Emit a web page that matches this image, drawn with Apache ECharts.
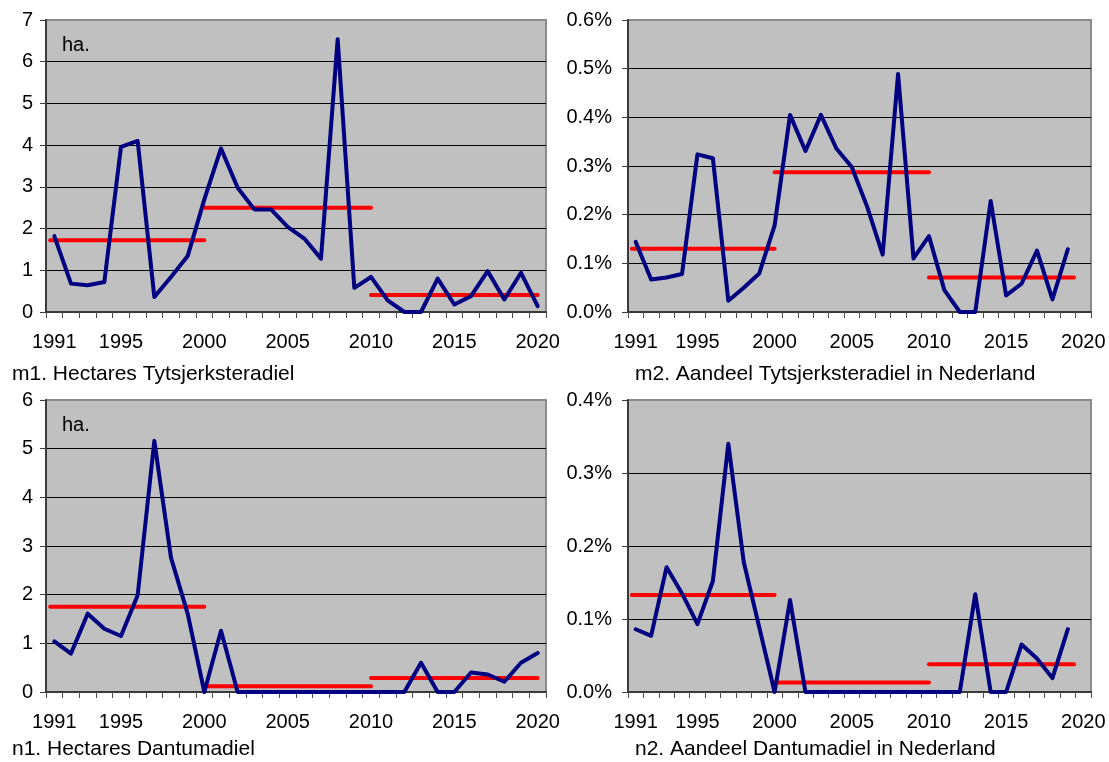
<!DOCTYPE html>
<html>
<head>
<meta charset="utf-8">
<script src="https://cdn.jsdelivr.net/npm/echarts@6/dist/echarts.min.js"></script>
<style>
  html, body { margin: 0; padding: 0; background: #ffffff; }
  #chart { width: 1109px; height: 762px; }
</style>
</head>
<body>
<div id="chart"></div>
<script>
// Years on the category axis
const years = ['1991','1992','1993','1994','1995','1996','1997','1998','1999','2000',
               '2001','2002','2003','2004','2005','2006','2007','2008','2009','2010',
               '2011','2012','2013','2014','2015','2016','2017','2018','2019','2020'];

// m1: hectares Tytsjerksteradiel
const m1Hectares = [1.82, 0.68, 0.64, 0.72, 3.96, 4.10, 0.36, 0.84, 1.34, 2.70,
                    3.92, 2.98, 2.46, 2.46, 2.04, 1.76, 1.28, 6.54, 0.58, 0.84,
                    0.28, 0, 0, 0.80, 0.18, 0.38, 0.98, 0.30, 0.94, 0.14];
const m1Averages = [1.72, 2.50, 0.41];

// m2: share of Tytsjerksteradiel in the Netherlands (percent)
const m2Share = [0.144, 0.067, 0.071, 0.078, 0.324, 0.316, 0.023, 0.050, 0.079, 0.178,
                 0.405, 0.331, 0.405, 0.336, 0.298, 0.216, 0.118, 0.489, 0.110, 0.156,
                 0.045, 0, 0, 0.228, 0.034, 0.058, 0.126, 0.026, 0.129, null];
const m2Averages = [0.130, 0.287, 0.071];

// n1: hectares Dantumadiel
const n1Hectares = [1.04, 0.79, 1.61, 1.30, 1.15, 1.99, 5.16, 2.76, 1.61, 0,
                    1.26, 0, 0, 0, 0, 0, 0, 0, 0, 0,
                    0, 0, 0.60, 0, 0, 0.40, 0.36, 0.21, 0.60, 0.80];
const n1Averages = [1.75, 0.12, 0.29];

// n2: share of Dantumadiel in the Netherlands (percent)
const n2Share = [0.086, 0.077, 0.171, 0.135, 0.093, 0.152, 0.340, 0.178, 0.089, 0,
                 0.126, 0, 0, 0, 0, 0, 0, 0, 0, 0,
                 0, 0, 0.134, 0, 0, 0.065, 0.046, 0.019, 0.086, null];
const n2Averages = [0.133, 0.013, 0.038];

// Year spans of the three period averages
const periodsFull  = [[1990.75, 2000], [2000, 2010], [2010, 2020]];
const periodsShare = [[1990.75, 2000], [2000, 2010], [2010, 2019.4]];

// Panel titles and y-axis ranges
const titles = ['m1. Hectares Tytsjerksteradiel', 'm2. Aandeel Tytsjerksteradiel in Nederland',
                'n1. Hectares Dantumadiel', 'n2. Aandeel Dantumadiel in Nederland'];
const yMax = [7, 0.6, 6, 0.4];
const yStep = [1, 0.1, 1, 0.1];

const FONT = '"Liberation Sans", Arial, sans-serif';

const panels = [
  { grid: { left: 46,  top: 20,  width: 500, height: 292 }, values: m1Hectares, avgs: m1Averages, periods: periodsFull,  pct: false, unit: true },
  { grid: { left: 628, top: 20,  width: 463, height: 292 }, values: m2Share,    avgs: m2Averages, periods: periodsShare, pct: true,  unit: false },
  { grid: { left: 46,  top: 400, width: 500, height: 292 }, values: n1Hectares, avgs: n1Averages, periods: periodsFull,  pct: false, unit: true },
  { grid: { left: 628, top: 400, width: 463, height: 292 }, values: n2Share,    avgs: n2Averages, periods: periodsShare, pct: true,  unit: false }
];
const titlePos = [{ left: 12, top: 364 }, { left: 635, top: 364 }, { left: 12, top: 739 }, { left: 635, top: 739 }];

const grid = [], xAxis = [], yAxis = [], series = [], title = [], graphic = [];

panels.forEach((p, k) => {
  grid.push(Object.assign({
    show: true, backgroundColor: '#C0C0C0', borderColor: '#8a8a8a', borderWidth: 2, containLabel: false
  }, p.grid));

  // visible year axis
  xAxis.push({
    type: 'category', gridIndex: k, data: years, boundaryGap: true,
    axisLine: { lineStyle: { color: '#3a3a3a', width: 2 } },
    axisTick: { show: true, interval: 0, length: 6, lineStyle: { color: '#4a4a4a', width: 1 } },
    axisLabel: {
      interval: (i, v) => i === 0 || Number(v) % 5 === 0,
      margin: 20, color: '#000', fontSize: 20, fontFamily: FONT
    },
    splitLine: { show: false }
  });
  // hidden continuous year axis for the period averages
  xAxis.push({
    type: 'value', gridIndex: k, min: 1990.5, max: 2020.5, show: false
  });

  yAxis.push({
    type: 'value', gridIndex: k, min: 0, max: yMax[k], interval: yStep[k],
    axisLine: { show: true, lineStyle: { color: '#3a3a3a', width: 2 } },
    axisTick: { show: true, length: 6, lineStyle: { color: '#3a3a3a', width: 1 } },
    axisLabel: {
      margin: p.pct ? 16 : 13, color: '#000', fontSize: 20, fontFamily: FONT,
      formatter: v => p.pct ? v.toFixed(1) + '%' : String(Math.round(v))
    },
    splitLine: { show: true, showMinLine: false, showMaxLine: false, lineStyle: { color: '#000', width: 1 } }
  });

  // period averages in red
  p.avgs.forEach((a, j) => {
    series.push({
      type: 'line', xAxisIndex: 2 * k + 1, yAxisIndex: k,
      data: [[p.periods[j][0], a], [p.periods[j][1], a]],
      symbol: 'none', silent: true, z: 3,
      lineStyle: { color: '#FF0000', width: 4, cap: 'round' }
    });
  });

  // yearly values in navy
  series.push({
    type: 'line', xAxisIndex: 2 * k, yAxisIndex: k,
    data: p.values.map(v => v === null ? '-' : v),
    symbol: 'none', silent: true, z: 4,
    lineStyle: { color: '#000080', width: 4, join: 'round', cap: 'round' }
  });

  title.push({
    text: titles[k], left: titlePos[k].left, top: titlePos[k].top, padding: 0,
    textStyle: { fontSize: 21, fontWeight: 'normal', color: '#000', fontFamily: FONT }
  });

  if (p.unit) {
    graphic.push({
      type: 'text', left: p.grid.left + 16, top: p.grid.top + 15, z: 10,
      style: { text: 'ha.', fontSize: 20, fill: '#000', font: '20px ' + FONT }
    });
  }
});

const chart = echarts.init(document.getElementById('chart'), null, { renderer: 'canvas' });
chart.setOption({
  animation: false,
  backgroundColor: '#ffffff',
  title, grid, xAxis, yAxis, series, graphic
});
</script>
</body>
</html>
